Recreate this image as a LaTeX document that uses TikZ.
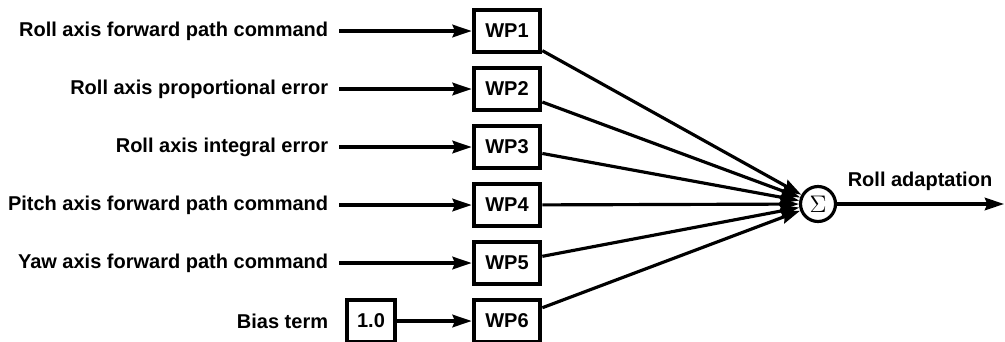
\documentclass[tikz,border=0pt]{standalone}
\usepackage{fontspec}
\setmainfont{Liberation Sans}
\usetikzlibrary{arrows.meta}
\begin{document}
\begin{tikzpicture}[x=0.6pt,y=-0.6pt,
    every node/.style={font=\bfseries\fontsize{12}{14}\selectfont},
    wbox/.style={draw, line width=2.4pt, minimum width=40pt, minimum height=25.5pt, inner sep=0pt},
    sig/.style={-{Stealth[length=11.5pt,width=7.5pt,inset=1.5pt]}, line width=1.9pt}]
    \useasboundingbox (0,0) rectangle (1005,341);

    \node[circle, draw, line width=1.9pt, minimum size=21pt, inner sep=0pt, font=\fontsize{15}{16}\selectfont] (S) at (818,204) {$\Sigma$};
    \coordinate (out) at (1004,204);

    \foreach \y/\k in {31/1,89/2,147/3,205/4,263/5,321/6}
    {
        \node[wbox] (WP\k) at (507,\y) {WP\k};
        \draw[sig] (WP\k) -- (S);
    }

    \foreach \y/\k/\txt in {31/1/Roll axis forward path command,89/2/Roll axis proportional error,147/3/Roll axis integral error,205/4/Pitch axis forward path command,263/5/Yaw axis forward path command}
    {
        \node[anchor=east] (L\k) at (334,\y) {\txt};
        \draw[sig, shorten <=3pt] (L\k) -- (WP\k);
    }

    \node[anchor=east] (bias) at (334,321) {Bias term};
    \node[wbox, minimum width=29pt] (one) at (371,321) {1.0};
    \draw[sig] (one) -- (WP6);

    \draw[sig] (S) -- (out);
    \node (adapt) at (920,181) {Roll adaptation};
\end{tikzpicture}
\end{document}
